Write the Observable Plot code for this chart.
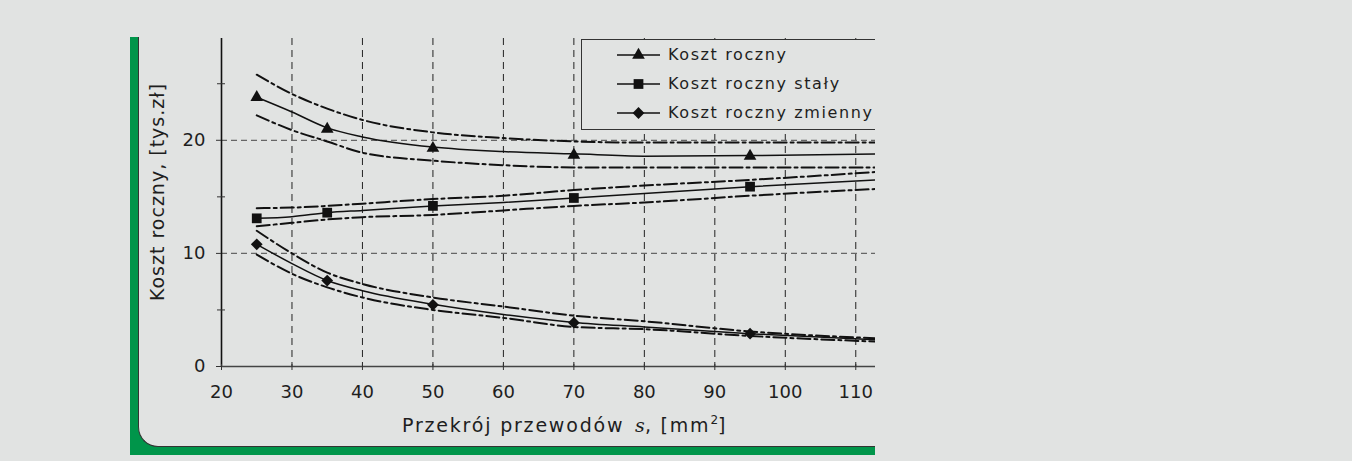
<!DOCTYPE html>
<html>
<head>
<meta charset="utf-8">
<script src="https://cdn.jsdelivr.net/npm/d3@7"></script>
<script src="https://cdn.jsdelivr.net/npm/@observablehq/plot@0.6"></script>
<style>
  html, body { margin: 0; padding: 0; background: #e1e3e2; }
  body { width: 1352px; height: 461px; position: relative; overflow: hidden; font-family: "DejaVu Sans", Verdana, sans-serif; color: #222; }
  #frame { position: absolute; left: 130px; top: 37px; width: 745px; height: 418px; background: #00954a; }
  #panel { position: absolute; left: 138px; top: 37px; width: 737px; height: 410px; background: #e1e3e2; box-sizing: border-box;
           border-left: 1px solid #333; border-bottom: 1px solid #333; border-bottom-left-radius: 20px; }
  #chart { position: absolute; left: 0; top: 0; }
  #legend { position: absolute; left: 581px; top: 39px; width: 294px; height: 91px; box-sizing: border-box;
            border: 1.5px solid #333; border-right: none; background: #e1e3e2; overflow: hidden; }
  .lrow { position: absolute; left: 0; height: 20px; white-space: nowrap; }
  .lrow svg { position: absolute; left: 34px; top: 0; }
  .lrow span { position: absolute; left: 86px; top: 0; font-size: 16px; line-height: 20px; letter-spacing: 1.6px; color: #1e1e1e; }
  #xtitle { position: absolute; left: 402px; top: 416px; font-size: 19px; line-height: 19px; letter-spacing: 1.8px; white-space: nowrap; color: #1e1e1e; }
  #xtitle i { font-family: "DejaVu Serif", "Liberation Serif", serif; font-style: italic; letter-spacing: 0; padding-left: 3px; }
  #xtitle sup { font-size: 12px; letter-spacing: 0; vertical-align: 8px; line-height: 0; }
  #ytitle { position: absolute; left: 157px; top: 192px; transform: translate(-50%, -50%) rotate(-90deg);
            font-size: 19px; line-height: 19px; letter-spacing: 1px; white-space: nowrap; color: #1e1e1e; }
</style>
</head>
<body>
<div id="frame"></div>
<div id="panel"></div>
<div id="chart"></div>
<div id="legend"></div>
<div id="xtitle">Przekrój przewodów <i>s</i>, [mm<sup>2</sup>]</div>
<div id="ytitle">Koszt roczny, [tys.zł]</div>
<script>
// ---- data ----
const categories = ["Koszt roczny", "Koszt roczny stały", "Koszt roczny zmienny"];
const symbolNames = ["triangle", "square", "diamond2"];

const xTicks = [20, 30, 40, 50, 60, 70, 80, 90, 100, 110];
const yTicks = [0, 10, 20];
const yMinorTicks = [5, 15, 25];

// curve sample positions (mm2)
const xs = [25, 30, 35, 40, 50, 60, 70, 80, 95, 113];

const rocznyMid = [23.8, 22.5, 21.1, 20.3, 19.4, 19.0, 18.8, 18.6, 18.65, 18.8];
const rocznyUp  = [25.8, 24.1, 22.8, 21.8, 20.7, 20.2, 19.9, 19.8, 19.8, 19.8];
const rocznyLow = [22.2, 20.9, 19.9, 18.9, 18.2, 17.8, 17.6, 17.6, 17.6, 17.6];

const stalyMid = [13.1, 13.25, 13.6, 13.8, 14.2, 14.5, 14.9, 15.3, 15.9, 16.5];
const stalyUp  = [14.0, 14.05, 14.2, 14.4, 14.8, 15.1, 15.6, 16.0, 16.5, 17.2];
const stalyLow = [12.4, 12.7, 13.0, 13.2, 13.4, 13.8, 14.2, 14.5, 15.1, 15.7];

const zmiennyMid = [10.8, 9.1, 7.6, 6.7, 5.5, 4.6, 3.9, 3.5, 2.9, 2.35];
const zmiennyUp  = [12.0, 10.0, 8.3, 7.3, 6.1, 5.3, 4.5, 4.0, 3.1, 2.5];
const zmiennyLow = [9.9, 8.2, 7.0, 6.1, 5.0, 4.3, 3.5, 3.3, 2.7, 2.2];

// measured points
const markerX = [25, 35, 50, 70, 95];
const rocznyPts  = [23.8, 21.0, 19.3, 18.7, 18.6];
const stalyPts   = [13.1, 13.6, 14.2, 14.9, 15.9];
const zmiennyPts = [10.8, 7.6, 5.45, 3.87, 2.9];

// ---- helpers ----
const pts = (ys) => xs.map((x, i) => ({x, y: ys[i]}));
const mpts = (ys) => markerX.map((x, i) => ({x, y: ys[i]}));
const symR = {triangle: 4.7, square: 5.5, diamond2: 5.3};

const solid = (ys) => Plot.line(pts(ys), {x: "x", y: "y", curve: "monotone-x", stroke: "#111", strokeWidth: 1.5, clip: true});
const band = (ys) => Plot.line(pts(ys), {x: "x", y: "y", curve: "monotone-x", stroke: "#111", strokeWidth: 2,
                                          strokeDasharray: "13,4,3,4", clip: true});
const dots = (ys, sym) => Plot.dot(mpts(ys), {x: "x", y: "y", symbol: sym, r: symR[sym], fill: "#111", stroke: "none"});

const chart = Plot.plot({
  width: 1352,
  height: 461,
  marginLeft: 221,
  marginRight: 477,
  marginTop: 38,
  marginBottom: 95,
  x: {domain: [20, 112.8]},
  y: {domain: [0, 29]},
  style: {background: "transparent", fontFamily: "DejaVu Sans, Verdana, sans-serif", fontSize: "18px", color: "#1e1e1e"},
  marks: [
    Plot.gridX(xTicks.slice(1), {stroke: "#222", strokeOpacity: 1, strokeWidth: 1, strokeDasharray: "7,5"}),
    Plot.gridY(yTicks.slice(1), {stroke: "#666", strokeOpacity: 1, strokeWidth: 1.2, strokeDasharray: "6,4"}),
    band(rocznyUp), band(rocznyLow),
    band(stalyUp), band(stalyLow),
    band(zmiennyUp), band(zmiennyLow),
    solid(rocznyMid), solid(stalyMid), solid(zmiennyMid),
    dots(rocznyPts, symbolNames[0]),
    dots(stalyPts, symbolNames[1]),
    dots(zmiennyPts, symbolNames[2]),
    Plot.ruleX([20], {stroke: "#111", strokeWidth: 1.6}),
    Plot.ruleY([0], {stroke: "#444", strokeWidth: 1.6}),
    Plot.axisY(yTicks, {tickSize: 5, text: null, label: null, stroke: "#333"}),
    Plot.axisY(yTicks, {tickSize: 0, tickPadding: 16, label: null, fill: "#1e1e1e"}),
    Plot.axisY(yMinorTicks, {tickSize: 8, dx: 4, text: null, label: null, stroke: "#333"}),
    Plot.axisX(xTicks, {tickSize: 6, dy: -2, text: null, label: null, stroke: "#333"}),
    Plot.axisX(xTicks, {tickSize: 0, tickPadding: 19, label: null, fill: "#1e1e1e"})
  ]
});
document.getElementById("chart").appendChild(chart);

// ---- legend ----
const legend = document.getElementById("legend");
const d3sym = {triangle: d3.symbolTriangle, square: d3.symbolSquare, diamond2: d3.symbolDiamond2};
const rowTops = [5, 34, 63];
categories.forEach((name, i) => {
  const row = document.createElement("div");
  row.className = "lrow";
  row.style.top = rowTops[i] + "px";
  const sym = symbolNames[i];
  const r = symR[sym];
  const path = d3.symbol(d3sym[sym], Math.PI * r * r)();
  row.innerHTML =
    `<svg width="46" height="20"><line x1="1" x2="44" y1="10" y2="10" stroke="#111" stroke-width="1.5"/>` +
    `<path d="${path}" transform="translate(22.5,10)" fill="#111"/></svg><span>${name}</span>`;
  legend.appendChild(row);
});
</script>
</body>
</html>
